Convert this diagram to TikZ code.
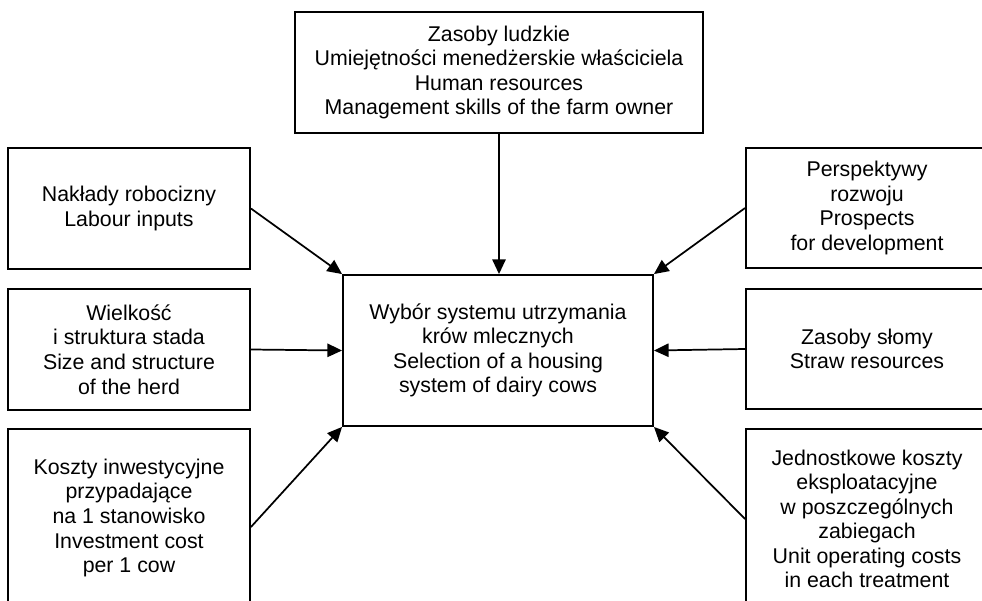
\documentclass[tikz,border=0pt]{standalone}
\usepackage{fontspec}
\setmainfont{Liberation Sans}
\usetikzlibrary{arrows.meta,calc}
\begin{document}
\begin{tikzpicture}[x=0.75pt,y=-0.75pt,
  boxnode/.style={draw, line width=1.4pt, align=center, inner sep=0pt,
    font=\fontsize{16}{18.4}\selectfont},
  conn/.style={line width=1.3pt, -{Triangle[length=11pt,width=10pt]}}]
\useasboundingbox (0,0) rectangle (982,600);
\node[boxnode, minimum width=306pt, minimum height=90.75pt] (top) at (499,72.5)
  {Zasoby ludzkie\\Umiejętności menedżerskie właściciela\\Human resources\\Management skills of the farm owner};
\node[boxnode, minimum width=232.5pt, minimum height=113.25pt] (mid) at (498,350.5)
  {Wybór systemu utrzymania\\krów mlecznych\\Selection of a housing\\system of dairy cows};
\node[boxnode, minimum width=181.5pt, minimum height=90.75pt] (l1) at (129,208.5)
  {Nakłady robocizny\\Labour inputs};
\node[boxnode, minimum width=181.5pt, minimum height=90.75pt] (l2) at (129,349.5)
  {Wielkość\\i struktura stada\\Size and structure\\of the herd};
\node[boxnode, minimum width=181.5pt, minimum height=133.5pt] (l3) at (129,518)
  {Koszty inwestycyjne\\przypadające\\na 1 stanowisko\\Investment cost\\per 1 cow};
\node[boxnode, minimum width=181.5pt, minimum height=90pt] (r1) at (867,208)
  {Perspektywy\\rozwoju\\Prospects\\for development};
\node[boxnode, minimum width=181.5pt, minimum height=90pt] (r2) at (867,349)
  {Zasoby słomy\\Straw resources};
\node[boxnode, minimum width=181.5pt, minimum height=135pt] (r3) at (867,519)
  {Jednostkowe koszty\\eksploatacyjne\\w poszczególnych\\zabiegach\\Unit operating costs\\in each treatment};
\draw[conn] (top.south) -- (top.south |- mid.north);
\draw[conn] (l1.east) -- (mid.north west);
\draw[conn] (l2.east) -- (mid.west);
\draw[conn] ($(l3.east)+(0,9)$) -- (mid.south west);
\draw[conn] (r1.west) -- (mid.north east);
\draw[conn] (r2.west) -- (mid.east);
\draw[conn] (r3.west) -- (mid.south east);
\end{tikzpicture}
\end{document}
